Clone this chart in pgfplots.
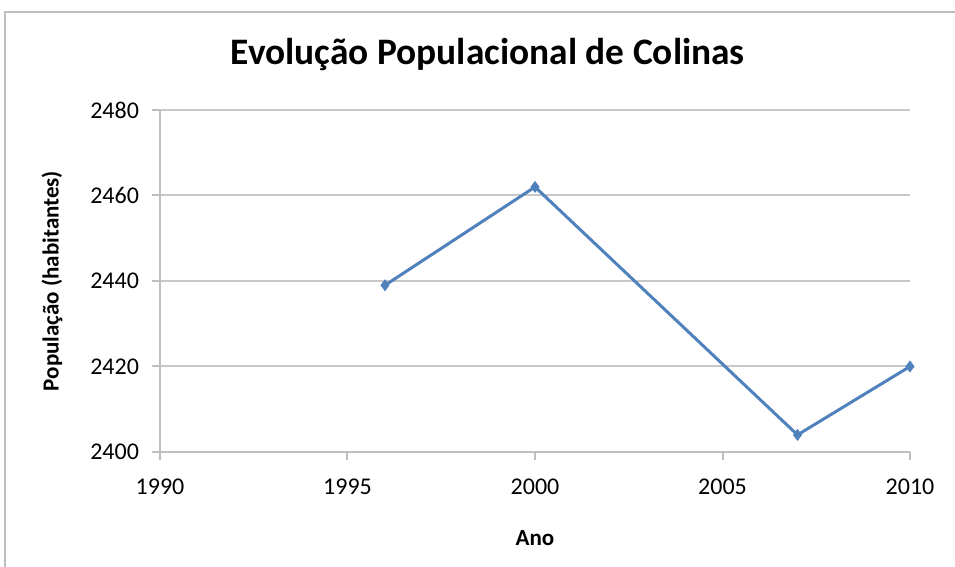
\documentclass[border=0pt]{standalone}
\usepackage{pgfplots}
\pgfplotsset{compat=1.18}
\usepackage{fontspec}
\setmainfont{Carlito}
\definecolor{lineblue}{RGB}{79,129,189}
\definecolor{gridgray}{RGB}{200,200,200}
\definecolor{axgray}{RGB}{190,190,190}
\begin{document}
\begin{tikzpicture}
\useasboundingbox (0,0) rectangle (477.5pt,283.5pt);
\draw[color=axgray, line width=1.2pt] (2.5pt,0) -- (2.5pt,277.5pt) -- (477.5pt,277.5pt);
\begin{axis}[
  at={(80pt,57.5pt)}, anchor=south west,
  scale only axis, width=375pt, height=171pt,
  xmin=1990, xmax=2010, ymin=2400, ymax=2480,
  xtick={1990,1995,2000,2005,2010},
  ytick={2400,2420,2440,2460,2480},
  /pgf/number format/assume math mode=true,
  xticklabel style={/pgf/number format/1000 sep={}, font=\fontsize{12}{13}\selectfont, yshift=-6pt},
  yticklabel style={/pgf/number format/1000 sep={}, font=\fontsize{12}{13}\selectfont, xshift=-3pt},
  axis x line*=bottom, axis y line*=left,
  axis line style={draw=axgray, line width=1pt, -},
  tick style={draw=axgray, line width=1pt},
  tick align=outside, major tick length=4pt,
  ymajorgrids, grid style={draw=gridgray, line width=1pt},
  title={\fontsize{18.7}{22}\selectfont\bfseries Evolução Populacional de Colinas},
  title style={at={(0.437,1)}, yshift=10pt},
  xlabel={\fontsize{11.5}{13}\selectfont\bfseries Ano},
  ylabel={\fontsize{11.5}{13}\selectfont\bfseries População (habitantes)},
  xlabel style={yshift=-11pt},
  ylabel style={yshift=7pt},
  clip=false,
]
\addplot[color=lineblue, line width=1.5pt, mark=diamond*, mark size=2.6pt, mark options={fill=lineblue, line width=0.5pt}]
  coordinates {(1996,2439) (2000,2462) (2007,2404) (2010,2420)};
\end{axis}
\end{tikzpicture}
\end{document}
